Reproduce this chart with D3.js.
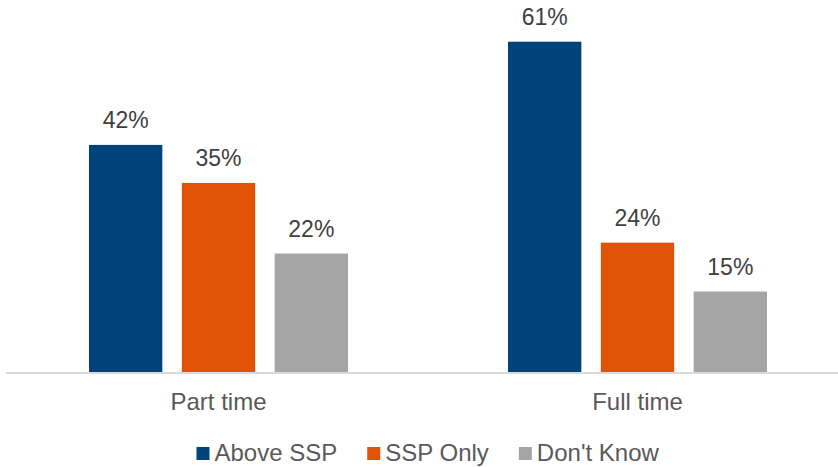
<!DOCTYPE html>
<html>
<head>
<meta charset="utf-8">
<script src="https://cdn.jsdelivr.net/npm/d3@7/dist/d3.min.js"></script>
<style>
  html, body { margin: 0; padding: 0; background: #fff; }
  svg { display: block; font-family: "Liberation Sans", Arial, sans-serif; }
</style>
</head>
<body>
<svg id="chart" width="838" height="467"></svg>
<script>
const categories = ["Part time", "Full time"];
const seriesNames = ["Above SSP", "SSP Only", "Don't Know"];
const seriesColors = ["#00427A", "#E05206", "#A5A5A5"];
const aboveSSP = [42, 61];
const sspOnly = [35, 24];
const dontKnow = [22, 15];
const seriesValues = [aboveSSP, sspOnly, dontKnow];

const svg = d3.select("#chart");
const W = 838, H = 467;
const plot = { left: 9, right: 847, top: 20, bottom: 373 };

const x0 = d3.scaleBand().domain(categories).range([plot.left, plot.right]).paddingInner(0).paddingOuter(0);
const groupPad = 80;
const x1 = d3.scaleBand().domain(seriesNames)
  .range([groupPad, x0.bandwidth() - groupPad]).paddingInner(0.21).paddingOuter(0);
const y = d3.scaleLinear().domain([0, 65]).range([plot.bottom, plot.top]);

const rows = [];
categories.forEach((c, ci) => {
  seriesNames.forEach((s, si) => {
    rows.push({ cat: c, series: s, value: seriesValues[si][ci], color: seriesColors[si] });
  });
});

// bars
svg.append("g").selectAll("rect").data(rows).join("rect")
  .attr("x", d => x0(d.cat) + x1(d.series))
  .attr("y", d => y(d.value))
  .attr("width", x1.bandwidth())
  .attr("height", d => y(0) - y(d.value))
  .attr("fill", d => d.color);

// axis line
const xAxis = d3.axisBottom(x0).tickSize(0).tickPadding(20);
const gx = svg.append("g").attr("transform", `translate(0,${plot.bottom})`).call(xAxis);
gx.select(".domain").attr("stroke", "#D9D9D9").attr("stroke-width", 2)
  .attr("d", `M6,0H${W}`);
gx.selectAll("text")
  .attr("font-family", "'Liberation Sans', Arial, sans-serif")
  .attr("font-size", 24).attr("fill", "#595959")
  .attr("dy", null).attr("y", 37);

// data labels
svg.append("g").selectAll("text").data(rows).join("text")
  .attr("x", d => x0(d.cat) + x1(d.series) + x1.bandwidth() / 2)
  .attr("y", d => y(d.value) - 17)
  .attr("text-anchor", "middle")
  .attr("font-size", 23)
  .attr("fill", "#404040")
  .text(d => d.value + "%");

// legend
const legend = svg.append("g");
const items = legend.selectAll("g").data(seriesNames).join("g");
items.append("rect").attr("width", 13).attr("height", 13).attr("y", -14)
  .attr("fill", (d, i) => seriesColors[i]);
items.append("text").attr("x", 18).attr("y", 0)
  .attr("font-size", 24).attr("fill", "#595959").text(d => d);
let xpos = 0;
const gap = 30;
items.each(function () {
  const w = this.getBBox().width;
  d3.select(this).attr("transform", `translate(${xpos},0)`);
  xpos += w + gap;
});
const totalW = xpos - gap;
const center = (plot.left + plot.right) / 2;
legend.attr("transform", `translate(${center - totalW / 2},461)`);
</script>
</body>
</html>
